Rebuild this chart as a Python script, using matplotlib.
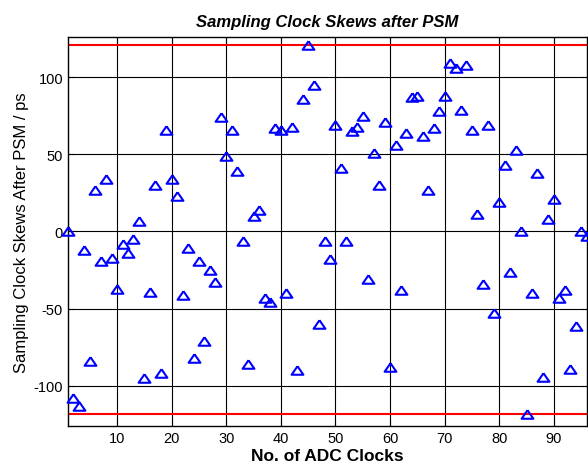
import numpy as np
import matplotlib
matplotlib.use("Agg")
import matplotlib.pyplot as plt

plt.rcParams['font.family'] = ['Liberation Sans', 'DejaVu Sans']
plt.rcParams['axes.unicode_minus'] = False

# skew of each ADC clock after PSM, in ps
clock_no = list(range(1, 97))
skew_ps = [
    0, -108, -113, -12, -84, 27, -19, 34, -17, -37,
    -8, -14, -5, 7, -95, -39, 30, -92, 66, 34,
    23, -41, -11, -82, -19, -71, -25, -33, 74, 49,
    66, 39, -6, -86, 10, 14, -43, -46, 67, 66,
    -40, 68, -90, 86, 121, 95, -60, -6, -18, 69,
    41, -6, 65, 68, 75, -31, 51, 30, 71, -88,
    56, -38, 64, 87, 88, 62, 27, 67, 78, 88,
    109, 106, 79, 108, 66, 11, -34, 69, -53, 19,
    43, -26, 53, 0, -118, -40, 38, -94, 8, 21,
    -43, -38, -89, -61, 0, -3,
]
xticks = [10, 20, 30, 40, 50, 60, 70, 80, 90]
yticks = [-100, -50, 0, 50, 100]

# squat triangle, wider than tall
tri = [(0, 0.72), (-1, -0.72), (1, -0.72), (0, 0.72)]

fig = plt.figure(figsize=(5.88, 4.64), dpi=100)
ax = fig.add_axes([0.1156, 0.080, 0.882, 0.838])

ax.plot(clock_no, skew_ps, linestyle='none', marker=tri, markersize=8.5,
        markerfacecolor='none', markeredgecolor='blue', markeredgewidth=1.5,
        clip_on=False, zorder=3)

# max / min bounds
ax.axhline(max(skew_ps), color='red', linewidth=1.5, zorder=2)
ax.axhline(min(skew_ps), color='red', linewidth=1.5, zorder=2)

ax.set_xlim(1, 96)
ax.set_ylim(-126, 126)
ax.set_xticks(xticks)
ax.set_yticks(yticks)
ax.grid(True, color='black', linestyle='-', linewidth=0.8)
ax.set_axisbelow(True)
ax.tick_params(direction='in', top=True, right=True, labelsize=10.5, length=4)
for s in ax.spines.values():
    s.set_linewidth(1.0)

ax.set_title('Sampling Clock Skews after PSM', fontsize=12, fontweight='bold',
             fontstyle='italic', pad=8)
ax.set_xlabel('No. of ADC Clocks', fontsize=12.5, fontweight='bold', labelpad=2)
ax.set_ylabel('Sampling Clock Skews After PSM / ps', fontsize=12, labelpad=3)

fig.savefig('out.png', dpi=100)
